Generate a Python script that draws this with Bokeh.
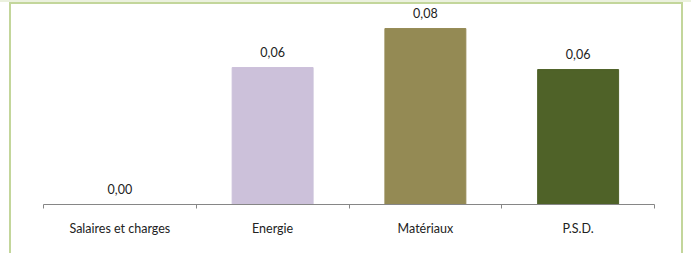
from bokeh.plotting import figure
from bokeh.models import Range1d, FixedTicker, ColumnDataSource
from bokeh.core.properties import value
from bokeh.embed import file_html
from bokeh.resources import INLINE

categories = ["Salaires et charges", "Energie", "Matériaux", "P.S.D."]
values = [0.0, 0.0615, 0.079, 0.0606]
colors = ["#ccc1da", "#ccc1da", "#948a54", "#4f6228"]

xpos = [i + 0.5 for i in range(len(categories))]
labels = [f"{v:.2f}".replace(".", ",") for v in values]
src = ColumnDataSource(dict(x=xpos, top=values, color=colors, label=labels))

FONT = "Lato"
FS = "12.5px"
TXT = "#222222"

p = figure(width=691, height=253, output_backend="svg", toolbar_location=None,
           x_range=Range1d(0, len(categories)), y_range=Range1d(0, 0.0916),
           min_border_left=43, min_border_right=37, min_border_top=0, min_border_bottom=49)
p.background_fill_color = None
p.border_fill_color = None
p.outline_line_color = None
p.grid.visible = False
p.yaxis.visible = False

p.vbar(x="x", top="top", width=0.53, bottom=0, color="color", source=src)
p.text(x="x", y="top", text="label", source=src, text_align="center", text_baseline="bottom",
       y_offset=-10.5, text_font=value(FONT), text_font_size=FS, text_color=TXT)

ax = p.xaxis[0]
ax.ticker = FixedTicker(ticks=xpos, minor_ticks=list(range(len(categories) + 1)))
ax.major_label_overrides = {x: c for x, c in zip(xpos, categories)}
ax.axis_line_color = "#868686"
ax.major_tick_line_color = None
ax.major_tick_out = 0
ax.major_tick_in = 0
ax.minor_tick_line_color = "#868686"
ax.minor_tick_out = 4
ax.minor_tick_in = 0
ax.major_label_standoff = 12
ax.major_label_text_font = FONT
ax.major_label_text_font_size = FS
ax.major_label_text_color = TXT

g = "linear-gradient(#c3d69b,#c3d69b)"
p.styles = {
    "background": (f"{g} 9px 2px / 2px 100% no-repeat, "
                   f"{g} 681px 2px / 2px 100% no-repeat, "
                   f"{g} 9px 2px / 674px 2px no-repeat, "
                   "linear-gradient(#ebf1de,#ebf1de) 0px 0px / 691px 2px no-repeat, "
                   "white"),
}

open("out.html", "w").write(file_html(p, INLINE))
